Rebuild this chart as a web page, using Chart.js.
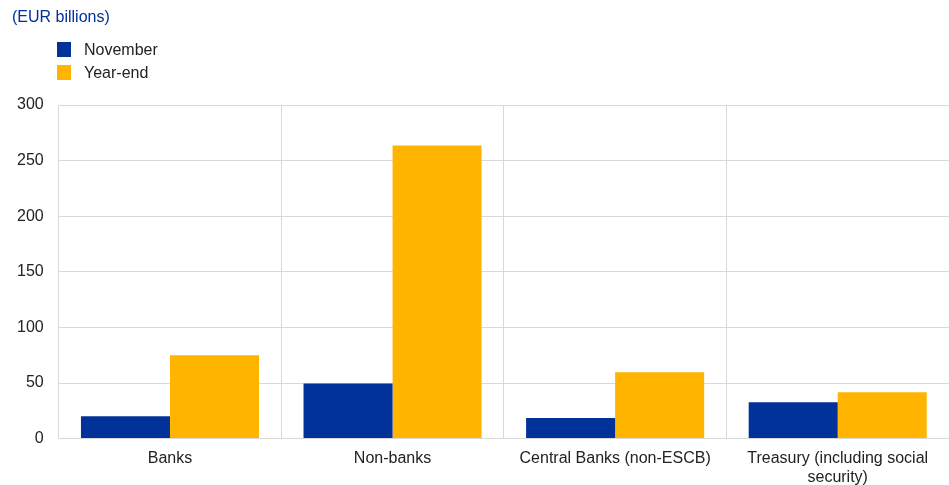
<!DOCTYPE html>
<html>
<head>
<meta charset="utf-8">
<script src="https://cdn.jsdelivr.net/npm/chart.js@4/dist/chart.umd.min.js"></script>
<style>
  html, body { margin: 0; padding: 0; background: #fff; }
  body { width: 949px; height: 485px; position: relative; overflow: hidden;
         font-family: "Liberation Sans", Arial, sans-serif; }
  /* il canvas sborda un po' in basso: Chart.js lascia spazio extra sotto le etichette */
  #wrap { position: absolute; left: 0; top: 0; width: 949px; height: 497px; }
  .unit { position: absolute; left: 12px; top: 8px; font-size: 16px; color: #003299; }
  .legend { position: absolute; left: 57px; top: 38px; }
  .legend .item { height: 23px; display: flex; align-items: center; font-size: 16px; color: #222; }
  .legend .sw { width: 14px; height: 15px; margin-right: 13px; }
</style>
</head>
<body>
<div id="wrap"><canvas id="chart"></canvas></div>
<div class="unit">(EUR billions)</div>
<div class="legend" id="legend"></div>
<script>
// Bilancio per controparte: novembre vs fine anno (EUR miliardi)

const categorie = ["Banks", "Non-banks", "Central Banks (non-ESCB)", ["Treasury (including social", "security)"]];
const novembre = [20, 49.5, 18.5, 32.6];
const fineAnno = [75, 263.5, 59.6, 41.6];
const serie = ["November", "Year-end"];
const colori = ["#003299", "#FFB400"];
const yTicks = [0, 50, 100, 150, 200, 250, 300];

const gridColor = "#d9d9d9";
const tickColor = "#222";
const font = { family: "'Liberation Sans', Arial, sans-serif", size: 16 };

// legenda verticale in HTML, come nell'originale
const legend = document.getElementById("legend");
serie.forEach((s, i) => {
  const item = document.createElement("div");
  item.className = "item";
  const sw = document.createElement("span");
  sw.className = "sw";
  sw.style.background = colori[i];
  item.appendChild(sw);
  item.appendChild(document.createTextNode(s));
  legend.appendChild(item);
});

new Chart(document.getElementById("chart"), {
  type: "bar",
  data: {
    labels: categorie,
    datasets: [
      { label: serie[0], data: novembre, backgroundColor: colori[0] },
      { label: serie[1], data: fineAnno, backgroundColor: colori[1] }
    ]
  },
  options: {
    responsive: true, maintainAspectRatio: false, animation: false,
    categoryPercentage: 0.8, barPercentage: 1.0,
    layout: { padding: { top: 105, left: 2, right: 0, bottom: 0 } },
    plugins: { legend: { display: false }, tooltip: { enabled: false } },
    scales: {
      x: {
        grid: { color: gridColor, offset: true, drawTicks: false },
        border: { color: gridColor },
        ticks: { color: tickColor, font, padding: 10, maxRotation: 0 }
      },
      y: {
        min: 0, max: 300,
        afterBuildTicks: (ax) => { ax.ticks = yTicks.map(v => ({ value: v })); },
        grid: { color: gridColor, drawTicks: false },
        border: { color: gridColor },
        ticks: { color: tickColor, font, padding: 15 }
      }
    }
  }
});
</script>
</body>
</html>
